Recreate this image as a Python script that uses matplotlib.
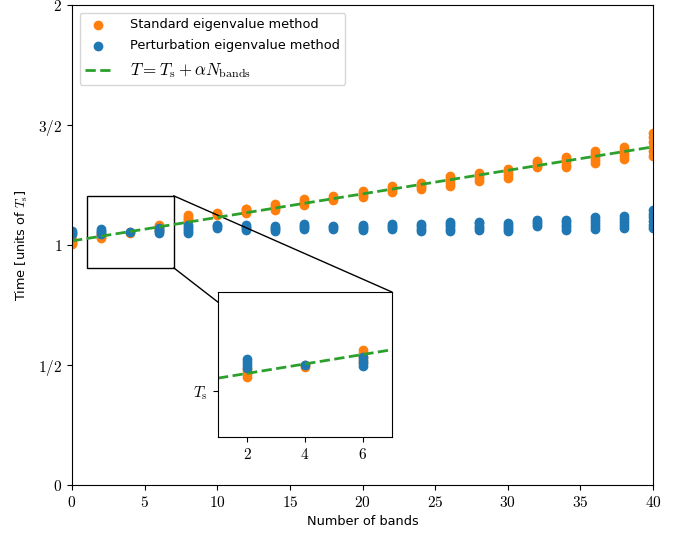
import numpy as np
import matplotlib
matplotlib.use("Agg")
import matplotlib.pyplot as plt
from matplotlib.patches import Rectangle, ConnectionPatch

plt.rcParams['mathtext.fontset'] = 'cm'
plt.rcParams['font.size'] = 9.3
plt.rcParams['xtick.labelsize'] = 11
plt.rcParams['ytick.labelsize'] = 11

# Number of bands at which the timings were taken
bands = [0, 2, 4, 6, 8, 10, 12, 14, 16, 18, 20, 22, 24, 26, 28, 30, 32, 34, 36, 38, 40]

# Timings (units of T_s), several repeats per band count
standard_times = [
    [1.003, 1.008, 1.013, 1.02],
    [1.03, 1.035, 1.04, 1.045],
    [1.05, 1.055],
    [1.06, 1.07, 1.078, 1.085],
    [1.105, 1.11, 1.118, 1.125],
    [1.125, 1.13, 1.133],
    [1.135, 1.142, 1.148, 1.152],
    [1.146, 1.155, 1.163, 1.17],
    [1.167, 1.175, 1.183, 1.19],
    [1.188, 1.196, 1.204],
    [1.2, 1.21, 1.218, 1.225],
    [1.221, 1.23, 1.238, 1.244],
    [1.233, 1.242, 1.25, 1.258],
    [1.246, 1.258, 1.27, 1.28, 1.288],
    [1.267, 1.278, 1.29, 1.302],
    [1.281, 1.293, 1.305, 1.317],
    [1.323, 1.331, 1.34, 1.348],
    [1.323, 1.335, 1.348, 1.358, 1.367],
    [1.34, 1.353, 1.366, 1.379, 1.392],
    [1.358, 1.371, 1.384, 1.397, 1.41],
    [1.371, 1.39, 1.41, 1.43, 1.45, 1.465],
]
perturb_times = [
    [1.046, 1.052, 1.058],
    [1.047, 1.053, 1.06, 1.066],
    [1.055],
    [1.052, 1.058, 1.064, 1.07],
    [1.05, 1.058, 1.066, 1.075, 1.083],
    [1.072, 1.078, 1.083],
    [1.063, 1.07, 1.077, 1.083],
    [1.058, 1.065, 1.072, 1.08],
    [1.067, 1.074, 1.081, 1.088],
    [1.067, 1.073, 1.08],
    [1.063, 1.07, 1.077, 1.083],
    [1.067, 1.074, 1.081, 1.088],
    [1.058, 1.068, 1.078, 1.088],
    [1.058, 1.068, 1.078, 1.087, 1.096],
    [1.063, 1.072, 1.081, 1.09, 1.096],
    [1.058, 1.067, 1.076, 1.084, 1.09],
    [1.079, 1.087, 1.095, 1.104],
    [1.063, 1.073, 1.083, 1.094, 1.104],
    [1.067, 1.08, 1.092, 1.105, 1.117],
    [1.069, 1.082, 1.095, 1.108, 1.12],
    [1.069, 1.085, 1.1, 1.115, 1.13, 1.146],
]

# linear fit T = Ts + alpha * N
fit_Ts = 1.017
fit_alpha = 0.0098

xticks = [0, 5, 10, 15, 20, 25, 30, 35, 40]
yticks = [0, 0.5, 1, 1.5, 2]
ytick_labels = ['$0$', '$1/2$', '$1$', '$3/2$', '$2$']

# zoom window
zoom_x = (1, 7)
zoom_y = (0.905, 1.205)


def flatten(xs, ys):
    xx = [x for x, row in zip(xs, ys) for _ in row]
    yy = [v for row in ys for v in row]
    return np.array(xx), np.array(yy)


x_std, y_std = flatten(bands, standard_times)
x_per, y_per = flatten(bands, perturb_times)
n_line = np.array([0, 40])


def draw(ax, labels=True):
    ax.scatter(x_std, y_std, color='tab:orange', label="Standard eigenvalue method" if labels else None)
    ax.scatter(x_per, y_per, color='tab:blue', label="Perturbation eigenvalue method" if labels else None)
    ax.plot(n_line, fit_Ts + fit_alpha * n_line, '--', color='tab:green', lw=2,
            label=r"$T = T_\mathrm{s} + \alpha N_\mathrm{bands}$" if labels else None)


fig = plt.figure(figsize=(6.82, 5.37), dpi=100)
ax = fig.add_axes([0.1056, 0.0968, 0.852, 0.8939])
draw(ax)
ax.set_xlim(0, 40)
ax.set_ylim(0, 2)
ax.set_xticks(xticks)
ax.set_xticklabels(['$%d$' % t for t in xticks])
ax.set_yticks(yticks)
ax.set_yticklabels(ytick_labels)
ax.set_xlabel("Number of bands")
ax.set_ylabel(r"Time [units of $T_\mathrm{s}$]", labelpad=6)
leg = ax.legend(loc='upper left', borderaxespad=0.6, handletextpad=1.5, labelspacing=0.65)
leg.get_texts()[2].set_fontsize(12.3)

# zoomed inset
axins = fig.add_axes([0.3196, 0.1862, 0.2551, 0.2700])
draw(axins, labels=False)
axins.set_xlim(*zoom_x)
axins.set_ylim(*zoom_y)
axins.set_xticks([2, 4, 6])
axins.set_xticklabels(['$2$', '$4$', '$6$'])
axins.set_yticks([1.0])
axins.set_yticklabels([r'$T_\mathrm{s}$'])

# zoom box and connectors, drawn in the main axes so the inset covers them
ax.add_patch(Rectangle((zoom_x[0], zoom_y[0]), zoom_x[1] - zoom_x[0], zoom_y[1] - zoom_y[0],
                       fill=False, ec='k', lw=1))
for corner in [(zoom_x[1], zoom_y[1]), (zoom_x[1], zoom_y[0])]:
    con = ConnectionPatch(xyA=corner, coordsA=ax.transData, xyB=corner, coordsB=axins.transData,
                          color='k', lw=1)
    ax.add_artist(con)

fig.savefig("out.png", dpi=100)
